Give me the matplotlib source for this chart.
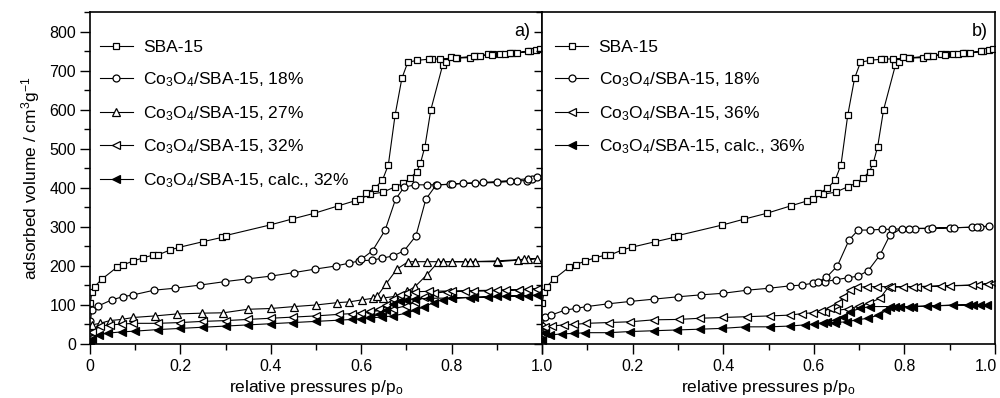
import matplotlib
matplotlib.use("Agg")
import matplotlib.pyplot as plt
import matplotlib.transforms as mtransforms
from matplotlib.ticker import MultipleLocator, FixedLocator, FixedFormatter

plt.rcParams['font.family'] = ['Liberation Sans', 'DejaVu Sans']
plt.rcParams['mathtext.default'] = 'regular'

# ---------------- data ----------------
# SBA-15 (same sample in both panels)
sba_ads_p = [0.001, 0.004, 0.01, 0.026, 0.06, 0.074, 0.096, 0.118, 0.14, 0.15, 0.177, 0.198, 0.249, 0.291, 0.30,
             0.398, 0.446, 0.496, 0.549, 0.586, 0.598, 0.62, 0.648, 0.675, 0.693, 0.708, 0.723, 0.731, 0.741, 0.754,
             0.78, 0.788, 0.798, 0.813, 0.84, 0.852, 0.863, 0.881, 0.892, 0.907, 0.918, 0.933, 0.944, 0.973, 0.986, 0.995]
sba_ads_v = [105, 134, 147, 166, 197, 203, 213, 221, 228, 228, 241, 248, 262, 273, 278,
             305, 320, 335, 354, 367, 372, 384, 389, 403, 412, 425, 442, 463, 506, 600,
             714, 722, 735, 733, 734, 737, 737, 743, 743, 743, 743, 746, 746, 750, 753, 756]
sba_des_p = [0.97, 0.93, 0.89, 0.85, 0.81, 0.775, 0.756, 0.749, 0.723, 0.703, 0.69, 0.675, 0.66, 0.647, 0.63, 0.61]
sba_des_v = [750, 746, 742, 738, 733, 731, 730, 730, 727, 722, 681, 587, 459, 420, 399, 386]

# panel a) Co3O4/SBA-15, 18 %
c18a_ads_p = [0.001, 0.004, 0.017, 0.048, 0.072, 0.096, 0.142, 0.188, 0.243, 0.299, 0.349, 0.40, 0.451, 0.498, 0.544,
              0.572, 0.596, 0.623, 0.647, 0.671, 0.695, 0.721, 0.743, 0.766, 0.796, 0.826, 0.852, 0.90, 0.944, 0.966,
              0.977, 0.99]
c18a_ads_v = [60, 87, 97, 113, 121, 126, 138, 143, 151, 160, 167, 174, 183, 192, 200,
              207, 213, 215, 220, 226, 239, 277, 371, 408, 409, 412, 412, 414, 418, 419,
              423, 428]
c18a_des_p = [0.97, 0.93, 0.87, 0.80, 0.768, 0.745, 0.719, 0.695, 0.676, 0.653, 0.625, 0.60]
c18a_des_v = [424, 419, 414, 410, 408, 408, 408, 402, 371, 292, 239, 217]

# panel a) Co3O4/SBA-15, 27 %
c27_ads_p = [0.001, 0.004, 0.022, 0.044, 0.07, 0.096, 0.144, 0.192, 0.247, 0.295, 0.349, 0.40, 0.452, 0.50, 0.547,
             0.574, 0.601, 0.625, 0.649, 0.675, 0.702, 0.719, 0.745, 0.771, 0.80, 0.83, 0.852, 0.903, 0.948, 0.97, 0.988]
c27_ads_v = [30, 49, 53, 60, 63, 68, 72, 77, 79, 80, 89, 91, 96, 100, 106,
             108, 113, 117, 118, 122, 135, 147, 177, 211, 211, 211, 211, 211, 215, 217, 219]
c27_des_p = [0.96, 0.90, 0.84, 0.78, 0.745, 0.719, 0.704, 0.679, 0.655, 0.635]
c27_des_v = [217, 213, 211, 211, 211, 211, 211, 192, 154, 122]

# panel a) Co3O4/SBA-15, 32 %
c32_ads_p = [0.001, 0.005, 0.022, 0.044, 0.07, 0.096, 0.15, 0.2, 0.25, 0.3, 0.35, 0.4, 0.45, 0.5, 0.55,
             0.58, 0.6, 0.62, 0.645, 0.67, 0.70, 0.72, 0.74, 0.76, 0.79, 0.83, 0.88, 0.92, 0.95, 0.97, 0.99]
c32_ads_v = [15, 32, 46, 49, 51, 53, 53, 55, 58, 60, 63, 66, 69, 72, 76,
             78, 80, 83, 86, 90, 98, 108, 120, 130, 134, 135, 136, 138, 139, 140, 142]
c32_des_p = [0.95, 0.9, 0.85, 0.8, 0.75, 0.72, 0.70, 0.685, 0.67, 0.655, 0.64, 0.62]
c32_des_v = [139, 138, 137, 136, 135, 134, 132, 126, 115, 100, 90, 84]

# panel a) Co3O4/SBA-15, calc., 32 %
c32c_ads_p = [0.001, 0.005, 0.02, 0.04, 0.07, 0.1, 0.15, 0.2, 0.25, 0.3, 0.35, 0.4, 0.45, 0.5, 0.55,
              0.58, 0.6, 0.62, 0.645, 0.67, 0.70, 0.72, 0.74, 0.76, 0.78, 0.80, 0.84, 0.88, 0.92, 0.95, 0.97, 0.99]
c32c_ads_v = [5, 12, 24, 28, 31, 33, 37, 40, 43, 46, 49, 52, 55, 58, 61,
              63, 65, 67, 69, 72, 79, 87, 96, 106, 114, 117, 119, 120, 122, 123, 124, 125]
c32c_des_p = [0.95, 0.9, 0.85, 0.8, 0.75, 0.72, 0.70, 0.685, 0.67, 0.655, 0.64, 0.62]
c32c_des_v = [124, 122, 120, 118, 117, 116, 114, 110, 102, 88, 76, 68]

# panel b) Co3O4/SBA-15, 18 %
c18b_ads_p = [0.001, 0.007, 0.02, 0.051, 0.074, 0.099, 0.146, 0.194, 0.247, 0.30, 0.351, 0.40, 0.453, 0.502, 0.547,
              0.573, 0.599, 0.625, 0.65, 0.676, 0.698, 0.72, 0.746, 0.768, 0.794, 0.823, 0.853, 0.90, 0.949, 0.967, 0.987]
c18b_ads_v = [45, 70, 74, 87, 91, 96, 103, 109, 115, 121, 126, 130, 138, 143, 149,
              151, 156, 160, 165, 170, 174, 188, 228, 279, 296, 296, 296, 298, 299, 300, 302]
c18b_des_p = [0.96, 0.91, 0.86, 0.81, 0.772, 0.75, 0.724, 0.698, 0.678, 0.652, 0.628, 0.61]
c18b_des_v = [300, 298, 297, 296, 294, 294, 292, 292, 267, 200, 171, 160]

# panel b) Co3O4/SBA-15, 36 %
c36_ads_p = [0.001, 0.007, 0.022, 0.048, 0.07, 0.098, 0.147, 0.195, 0.247, 0.302, 0.349, 0.40, 0.452, 0.503, 0.547,
             0.575, 0.599, 0.625, 0.65, 0.675, 0.70, 0.722, 0.746, 0.764, 0.798, 0.827, 0.849, 0.90, 0.963, 0.985, 0.998]
c36_ads_v = [25, 44, 46, 49, 50, 53, 55, 57, 62, 63, 66, 68, 70, 72, 74,
             78, 80, 83, 86, 90, 97, 105, 117, 145, 147, 147, 147, 149, 151, 154, 157]
c36_des_p = [0.95, 0.88, 0.82, 0.77, 0.74, 0.717, 0.695, 0.68, 0.665, 0.654, 0.636, 0.615]
c36_des_v = [151, 149, 147, 147, 147, 147, 145, 138, 120, 104, 91, 84]

# panel b) Co3O4/SBA-15, calc., 36 %
c36c_ads_p = [0.001, 0.007, 0.018, 0.044, 0.07, 0.096, 0.147, 0.195, 0.247, 0.298, 0.349, 0.397, 0.449, 0.503, 0.547,
              0.58, 0.60, 0.621, 0.647, 0.673, 0.695, 0.72, 0.742, 0.76, 0.78, 0.81, 0.849, 0.908, 0.951, 0.967, 0.983]
c36c_ads_v = [10, 27, 23, 26, 27, 29, 29, 32, 34, 36, 38, 40, 44, 44, 46,
              49, 51, 55, 55, 57, 62, 66, 74, 86, 95, 96, 97, 100, 100, 100, 101]
c36c_des_p = [0.94, 0.87, 0.82, 0.79, 0.768, 0.724, 0.702, 0.68, 0.665, 0.65, 0.63]
c36c_des_v = [100, 98, 96, 96, 96, 96, 91, 83, 70, 62, 57]

labels_a = ["SBA-15", "Co$_3$O$_4$/SBA-15, 18%", "Co$_3$O$_4$/SBA-15, 27%",
            "Co$_3$O$_4$/SBA-15, 32%", "Co$_3$O$_4$/SBA-15, calc., 32%"]
labels_b = ["SBA-15", "Co$_3$O$_4$/SBA-15, 18%", "Co$_3$O$_4$/SBA-15, 36%",
            "Co$_3$O$_4$/SBA-15, calc., 36%"]
xticks_a = [0, 0.2, 0.4, 0.6, 0.8, 1.0]
xticklabels_a = ["0", "0.2", "0.4", "0.6", "0.8", "1.0"]
xticklabels_b = ["", "0.2", "0.4", "0.6", "0.8", "1.0"]
yticks = [0, 100, 200, 300, 400, 500, 600, 700, 800]

# ---------------- styles ----------------
st_sq = dict(marker='s', ms=4.0, mfc='white', mec='black', mew=0.9)
st_ci = dict(marker='o', ms=5.0, mfc='white', mec='black', mew=0.9)
st_tu = dict(marker='^', ms=5.8, mfc='white', mec='black', mew=0.9)
st_tl = dict(marker='<', ms=5.8, mfc='white', mec='black', mew=0.9)
st_tf = dict(marker='<', ms=5.8, mfc='black', mec='black', mew=0.9)

fig = plt.figure(figsize=(10, 3.98), dpi=100)
H = 398.0
axa = fig.add_axes([90 / 1000, (H - 344) / H, 452 / 1000, 332 / H])
axb = fig.add_axes([542 / 1000, (H - 344) / H, 453 / 1000, 332 / H])


def iso(ax, ap, av, dp, dv, st, label):
    ax.plot(list(ap) + list(dp), list(av) + list(dv), color='black', lw=0.8,
            label=label, **st)


iso(axa, sba_ads_p, sba_ads_v, sba_des_p, sba_des_v, st_sq, labels_a[0])
iso(axa, c18a_ads_p, c18a_ads_v, c18a_des_p, c18a_des_v, st_ci, labels_a[1])
iso(axa, c27_ads_p, c27_ads_v, c27_des_p, c27_des_v, st_tu, labels_a[2])
iso(axa, c32_ads_p, c32_ads_v, c32_des_p, c32_des_v, st_tl, labels_a[3])
iso(axa, c32c_ads_p, c32c_ads_v, c32c_des_p, c32c_des_v, st_tf, labels_a[4])

iso(axb, sba_ads_p, sba_ads_v, sba_des_p, sba_des_v, st_sq, labels_b[0])
iso(axb, c18b_ads_p, c18b_ads_v, c18b_des_p, c18b_des_v, st_ci, labels_b[1])
iso(axb, c36_ads_p, c36_ads_v, c36_des_p, c36_des_v, st_tl, labels_b[2])
iso(axb, c36c_ads_p, c36c_ads_v, c36c_des_p, c36c_des_v, st_tf, labels_b[3])

for ax, xl in ((axa, xticklabels_a), (axb, xticklabels_b)):
    ax.set_xlim(0, 1.0)
    ax.set_ylim(0, 851)
    ax.xaxis.set_major_locator(FixedLocator(xticks_a))
    ax.xaxis.set_major_formatter(FixedFormatter(xl))
    ax.xaxis.set_minor_locator(MultipleLocator(0.1))
    ax.yaxis.set_major_locator(FixedLocator(yticks))
    ax.yaxis.set_minor_locator(MultipleLocator(50))
    for s in ax.spines.values():
        s.set_linewidth(1.2)
    ax.tick_params(axis='x', which='both', direction='out', top=False, bottom=True,
                   labelsize=11.5, width=1.0, pad=4)
    ax.tick_params(axis='x', which='major', length=7)
    ax.tick_params(axis='x', which='minor', length=4.5)
    ax.set_xlabel("relative pressures p/p$_o$", fontsize=12.5, labelpad=3)
    ax.legend(loc='upper left', frameon=False, fontsize=12.5, handlelength=1.9,
              handletextpad=0.6, labelspacing=0.86, borderpad=0, borderaxespad=0,
              numpoints=1, bbox_to_anchor=(0.022 if ax is axa else 0.029, 0.915))

axa.tick_params(axis='y', which='both', direction='out', left=True, right=False,
                labelsize=11.5, width=1.0, pad=3)
axa.tick_params(axis='y', which='major', length=7)
axa.tick_params(axis='y', which='minor', length=4)
axa.set_ylabel("adsorbed volume / cm$^3$g$^{-1}$", fontsize=12.5, labelpad=5)

axb.tick_params(axis='y', which='both', direction='out', left=True, right=False,
                labelleft=False, width=1.0)
axb.tick_params(axis='y', which='major', length=6)
axb.tick_params(axis='y', which='minor', length=4)

axa.text(0.975, 0.94, "a)", transform=axa.transAxes, ha='right', va='center', fontsize=13)
axb.text(0.985, 0.94, "b)", transform=axb.transAxes, ha='right', va='center', fontsize=13)

# keep the last tick label of panel b inside the picture
fig.canvas.draw()
last = axb.get_xticklabels()[-1]
last.set_transform(last.get_transform() +
                   mtransforms.ScaledTranslation(-9 / 100, 0, fig.dpi_scale_trans))

fig.savefig("out.png", dpi=100, facecolor='white')
